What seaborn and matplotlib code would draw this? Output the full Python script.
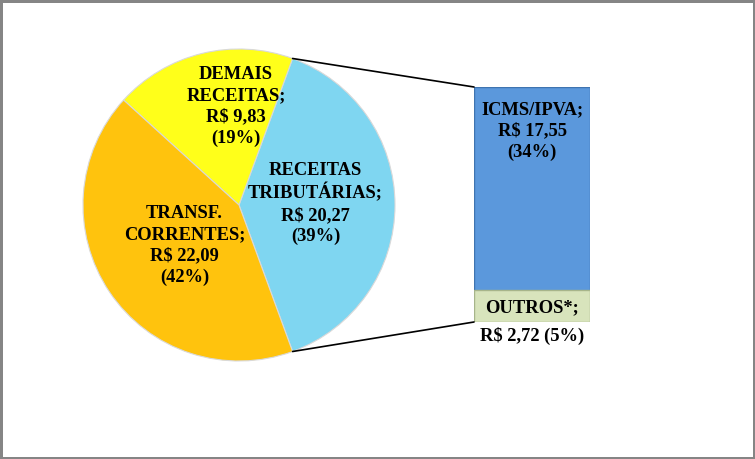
import numpy as np
import pandas as pd
import matplotlib
matplotlib.use("Agg")
import matplotlib.pyplot as plt
from matplotlib.patches import ConnectionPatch
import seaborn as sns

# pie data (R$ bilhoes)
pie_names = ["RECEITAS\nTRIBUTÁRIAS;", "DEMAIS\nRECEITAS;", "TRANSF.\nCORRENTES;"]
pie_values = [20.27, 9.83, 22.09]
pie_pcts = ["39%", "19%", "42%"]
pie_colors = ["#7fd6f1", "#ffff1a", "#ffc30d"]

# breakdown of receitas tributarias
bar_names = ["ICMS/IPVA;", "OUTROS*;"]
bar_values = [17.55, 2.72]
bar_pcts = ["34%", "5%"]
bar_colors = ["#5b98dc", "#d8e4bc"]

def brl(v):
    return "R$ " + f"{v:.2f}".replace(".", ",")

sns.set_theme(style="white")
plt.rcParams["font.family"] = ["Liberation Serif", "DejaVu Serif"]
plt.rcParams["text.color"] = "black"

fig = plt.figure(figsize=(7.55, 4.59), dpi=100)
fig.patch.set_edgecolor("#858585")
fig.patch.set_linewidth(2.5)

# pie
ax_pie = fig.add_axes([82 / 755, 98 / 459, 314 / 755, 312 / 459])
total = sum(pie_values)
start = -180 * pie_values[0] / total
ax_pie.pie(pie_values, colors=pie_colors, startangle=start, counterclock=True,
           radius=1, wedgeprops=dict(linewidth=0.8, edgecolor="#d9d9d9"))
ax_pie.set_xlim(-1, 1)
ax_pie.set_ylim(-1, 1)
ax_pie.set_aspect("equal")
ax_pie.axis("off")

# labels
fs = 13.3
ls = 1.32
label_pos = [(0.49, 0.01), (-0.02, 0.63), (-0.35, -0.26)]
for i, (x, y) in enumerate(label_pos):
    ax_pie.text(x, y, f"{pie_names[i]}\n{brl(pie_values[i])}\n({pie_pcts[i]})",
                ha="center", va="center", fontsize=fs, fontweight="bold", linespacing=ls)

# stacked bar
ax_bar = fig.add_axes([474 / 755, 137 / 459, 116 / 755, 235 / 459])
df_total = pd.DataFrame({"g": ["x"], "v": [sum(bar_values)]})
df_low = pd.DataFrame({"g": ["x"], "v": [bar_values[1]]})
sns.barplot(data=df_total, x="g", y="v", color=bar_colors[0], width=1,
            edgecolor="#3f74b0", linewidth=1, saturation=1, ax=ax_bar)
sns.barplot(data=df_low, x="g", y="v", color=bar_colors[1], width=1,
            edgecolor="#a7b58a", linewidth=1, saturation=1, ax=ax_bar)
ax_bar.set_xlim(-0.5, 0.5)
ax_bar.set_ylim(0, sum(bar_values))
ax_bar.axis("off")

ax_bar.text(0, sum(bar_values) - 1.2, f"{bar_names[0]}\n{brl(bar_values[0])}\n({bar_pcts[0]})",
            ha="center", va="top", fontsize=fs, fontweight="bold", linespacing=ls)
ax_bar.text(0, bar_values[1] / 2 - 0.1, bar_names[1], ha="center", va="center",
            fontsize=fs, fontweight="bold")
ax_bar.text(0, -0.4, f"{brl(bar_values[1])} ({bar_pcts[1]})", ha="center", va="top",
            fontsize=fs, fontweight="bold", clip_on=False)

# connector lines
theta = np.pi * pie_values[0] / total
for sign, yb in [(1, sum(bar_values)), (-1, 0)]:
    con = ConnectionPatch(xyA=(np.cos(theta), sign * np.sin(theta)), coordsA=ax_pie.transData,
                          xyB=(-0.5, yb), coordsB=ax_bar.transData, color="black", lw=1.2)
    fig.add_artist(con)

fig.savefig("out.png", dpi=100, edgecolor=fig.get_edgecolor())
